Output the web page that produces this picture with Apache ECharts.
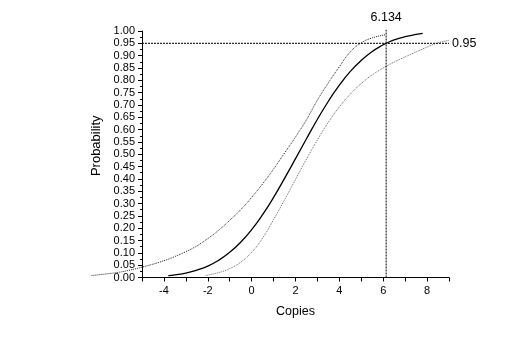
<!DOCTYPE html>
<html><head><meta charset="utf-8">
<script src="https://cdn.jsdelivr.net/npm/echarts@6/dist/echarts.min.js"></script>
<style>html,body{margin:0;padding:0;background:#fff}#c{width:531px;height:337px}</style>
</head><body><div id="c"></div>
<script>
const fitX = [-3.8,-3.5,-3,-2.5,-2,-1.5,-1,-0.5,0,0.5,1,1.5,2,2.5,3,3.5,4,4.5,5,5.5,6,6.134,6.5,7,7.5,7.8];
const fitY = [0.008,0.011,0.018,0.030,0.046,0.070,0.102,0.143,0.194,0.255,0.325,0.402,0.482,0.563,0.642,0.715,0.780,0.836,0.881,0.917,0.944,0.950,0.964,0.977,0.986,0.990];
const upperX = [-7.3,-6.5,-6,-5.5,-5,-4.5,-4,-3.5,-3,-2.5,-2,-1.5,-1,-0.5,0,0.5,1,1.5,2,2.5,3,3.5,4,4.5,5,5.5,6.1];
const upperY = [0.008,0.016,0.022,0.031,0.042,0.054,0.068,0.085,0.105,0.128,0.158,0.192,0.232,0.275,0.325,0.380,0.440,0.505,0.570,0.640,0.720,0.790,0.855,0.915,0.952,0.972,0.985];
const lowerX = [-2.1,-1.5,-1,-0.5,0,0.5,1,1.5,2,2.5,3,3.5,4,4.5,5,5.5,6,6.5,7,7.5,8,8.5,9];
const lowerY = [0.008,0.020,0.036,0.062,0.102,0.160,0.235,0.315,0.398,0.480,0.558,0.630,0.692,0.744,0.787,0.822,0.850,0.874,0.895,0.915,0.935,0.952,0.962];
const targetP = 0.95;
const targetX = 6.134;
const xRange = [-5, 9];
const xRangeWide = [-8, 9];
const yRange = [0, 1];

const zip = (a, b) => a.map((v, i) => [v, b[i]]);
const font = 'Liberation Sans, Arial, sans-serif';
const gl = 142, gr = 82, gt = 31, gb = 59.5;
const pxPerUnit = (531 - gl - gr) / (xRange[1] - xRange[0]);
const chart = echarts.init(document.getElementById('c'));
chart.setOption({
  animation: false,
  grid: [
    {left: gl, right: gr, top: gt, bottom: gb},
    {left: gl - (xRange[0] - xRangeWide[0]) * pxPerUnit, right: gr, top: gt, bottom: gb}
  ],
  xAxis: [{
    type: 'value', min: xRange[0], max: xRange[1], interval: 1,
    name: 'Copies', nameLocation: 'middle', nameGap: 28,
    nameTextStyle: {fontFamily: font, fontSize: 12.5, color: '#000'},
    splitLine: {show: false},
    axisLine: {onZero: false, lineStyle: {color: '#000', width: 1}},
    axisTick: {length: 4, lineStyle: {color: '#000'}},
    axisLabel: {fontFamily: font, fontSize: 11, color: '#000', margin: 8,
      formatter: v => (Math.round(v) % 2 === 0 ? String(v) : '')}
  }, {
    gridIndex: 1, type: 'value', min: xRangeWide[0], max: xRangeWide[1], show: false
  }],
  yAxis: [{
    type: 'value', min: yRange[0], max: yRange[1], interval: 0.05,
    name: 'Probability', nameLocation: 'middle', nameGap: 39,
    nameTextStyle: {fontFamily: font, fontSize: 13, color: '#000', padding: [0, 0, 0, 17]},
    splitLine: {show: false},
    axisLine: {show: true, onZero: false, lineStyle: {color: '#000', width: 1}},
    axisTick: {show: true, length: 4, lineStyle: {color: '#000'}},
    minorTick: {show: true, splitNumber: 2, length: 2, lineStyle: {color: '#000'}},
    axisLabel: {fontFamily: font, fontSize: 11, color: '#000', margin: 7,
      formatter: v => v.toFixed(2)}
  }, {
    gridIndex: 1, type: 'value', min: yRange[0], max: yRange[1], show: false
  }],
  series: [
    {type: 'line', data: zip(fitX, fitY), smooth: true, showSymbol: false,
      lineStyle: {color: '#000', width: 1.3}},
    {type: 'line', xAxisIndex: 1, yAxisIndex: 1, data: zip(upperX, upperY), smooth: true, showSymbol: false,
      lineStyle: {color: '#222', width: 1, type: [1, 1]}},
    {type: 'line', data: zip(lowerX, lowerY), smooth: true, showSymbol: false,
      lineStyle: {color: '#666', width: 1, type: [1, 1]}},
    {type: 'line', symbol: 'circle', symbolSize: 0, showSymbol: true,
      data: [[xRange[0], targetP], {value: [xRange[1], targetP],
        label: {show: true, position: 'right', distance: 3, formatter: '0.95',
          fontFamily: font, fontSize: 12.5, color: '#000'}}],
      lineStyle: {color: '#000', width: 1, type: [2, 1]}},
    {type: 'line', symbol: 'circle', symbolSize: 0, showSymbol: true, clip: false,
      data: [[targetX, yRange[0]], {value: [targetX, 1.005],
        label: {show: true, position: 'top', distance: 6, formatter: '6.134',
          fontFamily: font, fontSize: 12.5, color: '#000'}}],
      lineStyle: {color: '#000', width: 1, type: [2, 1]}}
  ]
});
</script></body></html>
